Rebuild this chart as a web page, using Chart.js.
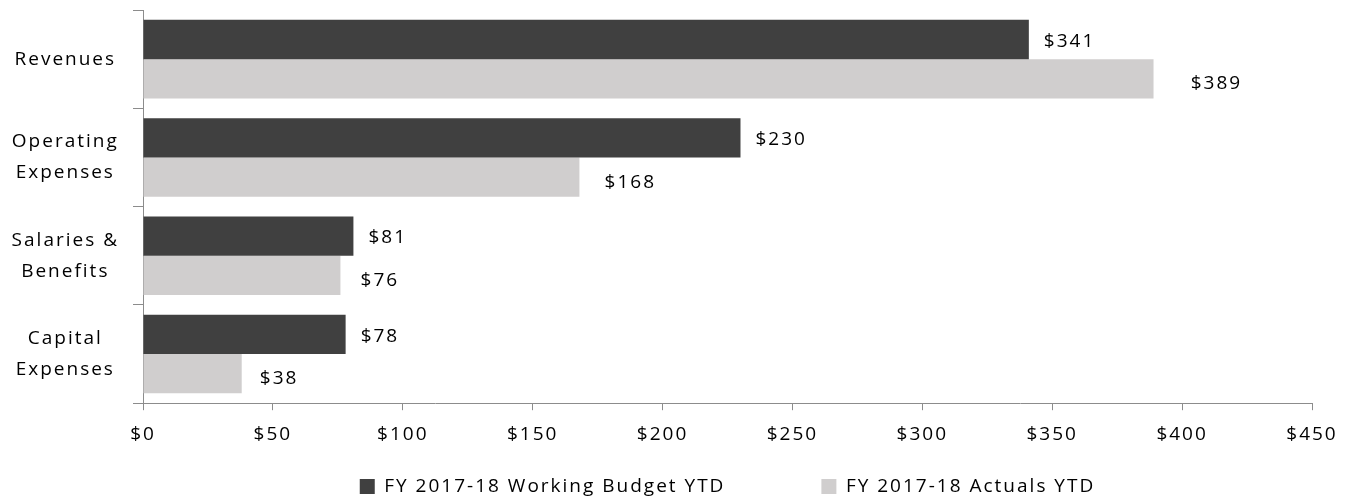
<!DOCTYPE html>
<html>
<head>
<meta charset="utf-8">
<script src="https://cdn.jsdelivr.net/npm/chart.js@4"></script>
<style>
    html, body { margin: 0; padding: 0; background: #fff; }
    #wrap { width: 1352px; height: 501px; position: relative; }
</style>
</head>
<body>
<div id="wrap"><canvas id="budgetChart"></canvas></div>
<script>
const categories = [['Revenues'], ['Operating', 'Expenses'], ['Salaries &', 'Benefits'], ['Capital', 'Expenses']];
const seriesNames = ['FY 2017-18 Working Budget YTD', 'FY 2017-18 Actuals YTD'];
const budgetYtd = [341, 230, 81, 78];
const actualsYtd = [389, 168, 76, 38];
const xMin = 0;
const xMax = 450;
const xStep = 50;

const darkColor = '#404040';
const lightColor = '#d0cece';
const axisColor = '#8c8c8c';

Chart.defaults.font.family = '"Open Sans", sans-serif';
Chart.defaults.font.size = 19;
Chart.defaults.color = '#000';

// excel style spaced lettering
const spacing = {
    id: 'spacing',
    beforeUpdate(chart) { chart.ctx.letterSpacing = '2px'; },
    beforeLayout(chart) { chart.ctx.letterSpacing = '2px'; },
    beforeDraw(chart) { chart.ctx.letterSpacing = '2px'; }
};

// legend: wide gap between items but a short box
const legendTweak = {
    id: 'legendTweak',
    afterInit(chart) {
        const lg = chart.legend;
        const fit = lg.fit;
        lg.fit = function () {
            fit.call(this);
            this.height = 42;
        };
        const draw = lg.draw;
        lg.draw = function () {
            const top = this.top;
            this.top = top + 18 - this.options.labels.padding;
            draw.call(this);
            this.top = top;
        };
    }
};

// value labels at the bar ends
const valueLabels = {
    id: 'valueLabels',
    afterDatasetsDraw(chart) {
        const ctx = chart.ctx;
        ctx.save();
        ctx.font = '19px "Open Sans", sans-serif';
        ctx.fillStyle = '#000';
        ctx.textAlign = 'left';
        ctx.textBaseline = 'middle';
        chart.data.datasets.forEach((ds, i) => {
            const meta = chart.getDatasetMeta(i);
            meta.data.forEach((bar, j) => {
                // second series labels sit a bit further out and lower
                const dx = i === 0 ? 15 : 16 + (bar.x - bar.base) * 0.021;
                const dy = i === 0 ? 2 : 5;
                ctx.fillText('$' + ds.data[j], bar.x + dx, bar.y + dy);
            });
        });
        ctx.restore();
    }
};

new Chart(document.getElementById('budgetChart'), {
    type: 'bar',
    data: {
        labels: categories,
        datasets: [
            { label: seriesNames[0], data: budgetYtd, backgroundColor: darkColor },
            { label: seriesNames[1], data: actualsYtd, backgroundColor: lightColor }
        ]
    },
    options: {
        indexAxis: 'y',
        responsive: true,
        maintainAspectRatio: false,
        animation: false,
        categoryPercentage: 0.8,
        barPercentage: 1.0,
        layout: { padding: { top: 10, right: 40, left: 0, bottom: 0 } },
        plugins: {
            tooltip: { enabled: false },
            legend: {
                position: 'bottom',
                fullSize: false,
                labels: {
                    boxWidth: 15,
                    boxHeight: 15,
                    padding: 96,
                    color: '#000'
                }
            }
        },
        scales: {
            x: {
                min: xMin,
                max: xMax,
                ticks: {
                    stepSize: xStep,
                    padding: 13,
                    callback: function (value) {
                        return '$' + value;
                    }
                },
                grid: { drawOnChartArea: false, tickLength: 7, color: axisColor },
                border: { color: axisColor }
            },
            y: {
                ticks: {
                    crossAlign: 'center',
                    padding: 14,
                    font: { lineHeight: 1.63 }
                },
                grid: { drawOnChartArea: false, tickLength: 10, color: axisColor },
                border: { color: axisColor },
                afterFit(scale) {
                    scale.width = 143;
                    scale.paddingTop = 0;
                    scale.paddingBottom = 0;
                }
            }
        }
    },
    plugins: [spacing, legendTweak, valueLabels]
});
</script>
</body>
</html>
